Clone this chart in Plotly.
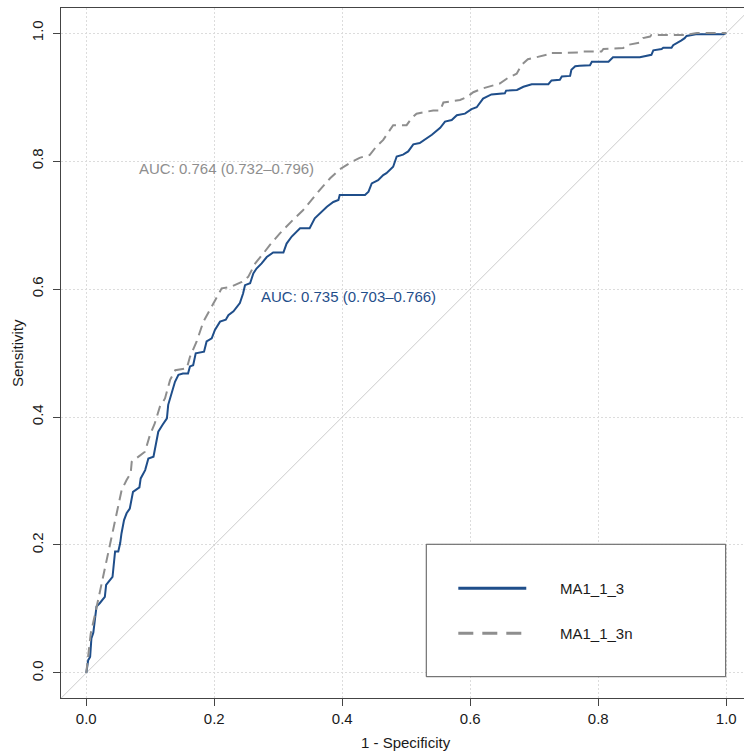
import plotly.graph_objects as go

# ---- data ----
fpr_ma1_1_3 = [0, 0.003, 0.006, 0.008, 0.011, 0.014, 0.016, 0.021, 0.029, 0.031, 0.037, 0.041, 0.045, 0.050,
               0.053, 0.055, 0.059, 0.063, 0.068, 0.073, 0.083, 0.085, 0.092, 0.097, 0.105, 0.109, 0.1125,
               0.119, 0.126, 0.128, 0.1334, 0.1386, 0.144, 0.151, 0.159, 0.162, 0.167, 0.171, 0.184, 0.188,
               0.196, 0.201, 0.209, 0.218, 0.222, 0.230, 0.240, 0.245, 0.248, 0.256, 0.261, 0.266, 0.274,
               0.282, 0.292, 0.308, 0.313, 0.321, 0.334, 0.349, 0.357, 0.365, 0.376, 0.386, 0.394, 0.396,
               0.4355, 0.441, 0.446, 0.456, 0.464, 0.469, 0.4795, 0.485, 0.495, 0.503, 0.511, 0.521, 0.529,
               0.540, 0.553, 0.5605, 0.571, 0.579, 0.5917, 0.602, 0.610, 0.620, 0.633, 0.654, 0.656, 0.673,
               0.683, 0.696, 0.722, 0.727, 0.740, 0.743, 0.756, 0.758, 0.764, 0.771, 0.787, 0.790, 0.816,
               0.823, 0.865, 0.883, 0.886, 0.899, 0.9015, 0.9145, 0.917, 0.925, 0.930, 0.935, 0.938, 0.9525,
               0.995, 1.0]
tpr_ma1_1_3 = [0, 0.020, 0.025, 0.054, 0.063, 0.088, 0.104, 0.109, 0.119, 0.1375, 0.146, 0.150, 0.190, 0.190,
               0.203, 0.218, 0.239, 0.2495, 0.257, 0.283, 0.290, 0.304, 0.317, 0.335, 0.338, 0.359, 0.377,
               0.3875, 0.398, 0.419, 0.4395, 0.455, 0.466, 0.468, 0.468, 0.479, 0.481, 0.4995, 0.502, 0.518,
               0.523, 0.536, 0.549, 0.552, 0.559, 0.565, 0.578, 0.593, 0.606, 0.609, 0.6245, 0.632, 0.640,
               0.650, 0.657, 0.657, 0.671, 0.682, 0.695, 0.695, 0.7105, 0.718, 0.7285, 0.736, 0.739, 0.747,
               0.747, 0.752, 0.765, 0.770, 0.778, 0.781, 0.791, 0.807, 0.810, 0.815, 0.826, 0.828, 0.833,
               0.841, 0.852, 0.8617, 0.864, 0.8716, 0.874, 0.881, 0.884, 0.8975, 0.904, 0.9058, 0.910, 0.911,
               0.916, 0.920, 0.920, 0.926, 0.927, 0.932, 0.933, 0.9425, 0.948, 0.949, 0.9495, 0.955, 0.955,
               0.962, 0.962, 0.966, 0.973, 0.975, 0.977, 0.977, 0.981, 0.985, 0.9885, 0.992, 0.9955, 0.998,
               0.998, 1.0]

fpr_ma1_1_3n = [0, 0.003, 0.007, 0.014, 0.023, 0.035, 0.042, 0.045, 0.050, 0.0553, 0.063, 0.0694, 0.071,
                0.081, 0.0917, 0.0995, 0.107, 0.115, 0.123, 0.128, 0.131, 0.139, 0.157, 0.162, 0.1725, 0.183,
                0.193, 0.201, 0.2115, 0.2245, 0.243, 0.253, 0.264, 0.277, 0.287, 0.3025, 0.313, 0.323, 0.339,
                0.355, 0.365, 0.381, 0.396, 0.412, 0.427, 0.443, 0.4535, 0.464, 0.469, 0.4795, 0.5005, 0.508,
                0.516, 0.542, 0.553, 0.558, 0.584, 0.594, 0.6047, 0.620, 0.646, 0.659, 0.6725, 0.680, 0.690,
                0.701, 0.7195, 0.722, 0.771, 0.7765, 0.805, 0.808, 0.839, 0.844, 0.865, 0.870, 0.881, 0.883,
                0.938, 0.954, 1.0]
tpr_ma1_1_3n = [0, 0.031, 0.062, 0.093, 0.135, 0.192, 0.229, 0.2417, 0.2625, 0.286, 0.3016, 0.312, 0.330,
                0.338, 0.3458, 0.372, 0.390, 0.416, 0.429, 0.447, 0.458, 0.473, 0.476, 0.494, 0.518, 0.549,
                0.567, 0.583, 0.601, 0.603, 0.611, 0.619, 0.640, 0.656, 0.669, 0.687, 0.697, 0.708, 0.7235,
                0.744, 0.755, 0.773, 0.787, 0.797, 0.805, 0.8095, 0.823, 0.833, 0.841, 0.856, 0.856, 0.8665,
                0.874, 0.879, 0.879, 0.8914, 0.8953, 0.8995, 0.9075, 0.9136, 0.921, 0.930, 0.9365, 0.950,
                0.959, 0.962, 0.966, 0.9685, 0.9695, 0.971, 0.971, 0.975, 0.9765, 0.981, 0.985, 0.992,
                0.9945, 0.997, 0.997, 1.0, 1.0]

series_names = ["MA1_1_3", "MA1_1_3n"]
auc_labels = ["AUC: 0.735 (0.703\u20130.766)", "AUC: 0.764 (0.732\u20130.796)"]
tick_vals = [0.0, 0.2, 0.4, 0.6, 0.8, 1.0]
tick_text = ["0.0", "0.2", "0.4", "0.6", "0.8", "1.0"]

BLUE = "#1f4e8a"
GRAY = "#8e8e8e"
FONT = "Arial, 'Liberation Sans', sans-serif"

fig = go.Figure()

# chance diagonal
fig.add_trace(go.Scatter(x=[-0.1, 1.1], y=[-0.1, 1.1], mode="lines",
                         line=dict(color="#cccccc", width=1), hoverinfo="skip", showlegend=False))
fig.add_trace(go.Scatter(x=fpr_ma1_1_3, y=tpr_ma1_1_3, mode="lines", name=series_names[0],
                         line=dict(color=BLUE, width=2), showlegend=False))
fig.add_trace(go.Scatter(x=fpr_ma1_1_3n, y=tpr_ma1_1_3n, mode="lines", name=series_names[1],
                         line=dict(color=GRAY, width=2, dash="10px,6px"), showlegend=False))

axis_common = dict(
    tickmode="array", tickvals=tick_vals, ticktext=tick_text,
    ticks="outside", ticklen=7, tickcolor="#444444", tickwidth=1,
    showline=True, linecolor="#444444", linewidth=1,
    showgrid=True, gridcolor="#dcdcdc", gridwidth=1, griddash="2px,2px",
    zeroline=False, tickfont=dict(family=FONT, size=15, color="#1a1a1a"),
)
fig.update_xaxes(range=[-0.0395, 1.0277], mirror=True, **axis_common)
fig.update_yaxes(range=[-0.0391, 1.0391], mirror=False, tickangle=-90, ticklabelstandoff=4, **axis_common)

annotations = [
    dict(x=0.41, y=0.588, xref="x", yref="y", text=auc_labels[0], showarrow=False,
         font=dict(family=FONT, size=15, color=BLUE), xanchor="center", yanchor="middle"),
    dict(x=0.219, y=0.7886, xref="x", yref="y", text=auc_labels[1], showarrow=False,
         font=dict(family=FONT, size=15, color=GRAY), xanchor="center", yanchor="middle"),
    dict(x=0.5, y=0, xref="x", yref="paper", text="1 - Specificity", showarrow=False,
         font=dict(family=FONT, size=15, color="#1a1a1a"), xanchor="center", yanchor="middle", yshift=-44),
    dict(x=0, y=0.5, xref="paper", yref="y", text="Sensitivity", showarrow=False, textangle=-90,
         font=dict(family=FONT, size=15, color="#1a1a1a"), xanchor="center", yanchor="middle", xshift=-44),
    dict(x=0.7375, y=0.1323, xref="x", yref="y", text=series_names[0], showarrow=False,
         font=dict(family=FONT, size=15, color="#1a1a1a"), xanchor="left", yanchor="middle"),
    dict(x=0.7375, y=0.0620, xref="x", yref="y", text=series_names[1], showarrow=False,
         font=dict(family=FONT, size=15, color="#1a1a1a"), xanchor="left", yanchor="middle"),
]

shapes = [
    dict(type="rect", xref="x", yref="y", x0=0.53125, x1=0.9991, y0=-0.0058, y1=0.2011,
         line=dict(color="#555555", width=1), fillcolor="white", layer="above"),
    dict(type="line", xref="x", yref="y", x0=0.5813, x1=0.6875, y0=0.1323, y1=0.1323,
         line=dict(color=BLUE, width=3), layer="above"),
    dict(type="line", xref="x", yref="y", x0=0.5813, x1=0.6875, y0=0.0620, y1=0.0620,
         line=dict(color=GRAY, width=3, dash="15px,9px"), layer="above"),
]

fig.update_layout(
    width=744, height=751,
    margin=dict(l=61, r=0, t=8, b=53, pad=0),
    plot_bgcolor="white", paper_bgcolor="white",
    showlegend=False,
    annotations=annotations, shapes=shapes,
    font=dict(family=FONT, size=15, color="#1a1a1a"),
)

fig.write_html("out.html")
